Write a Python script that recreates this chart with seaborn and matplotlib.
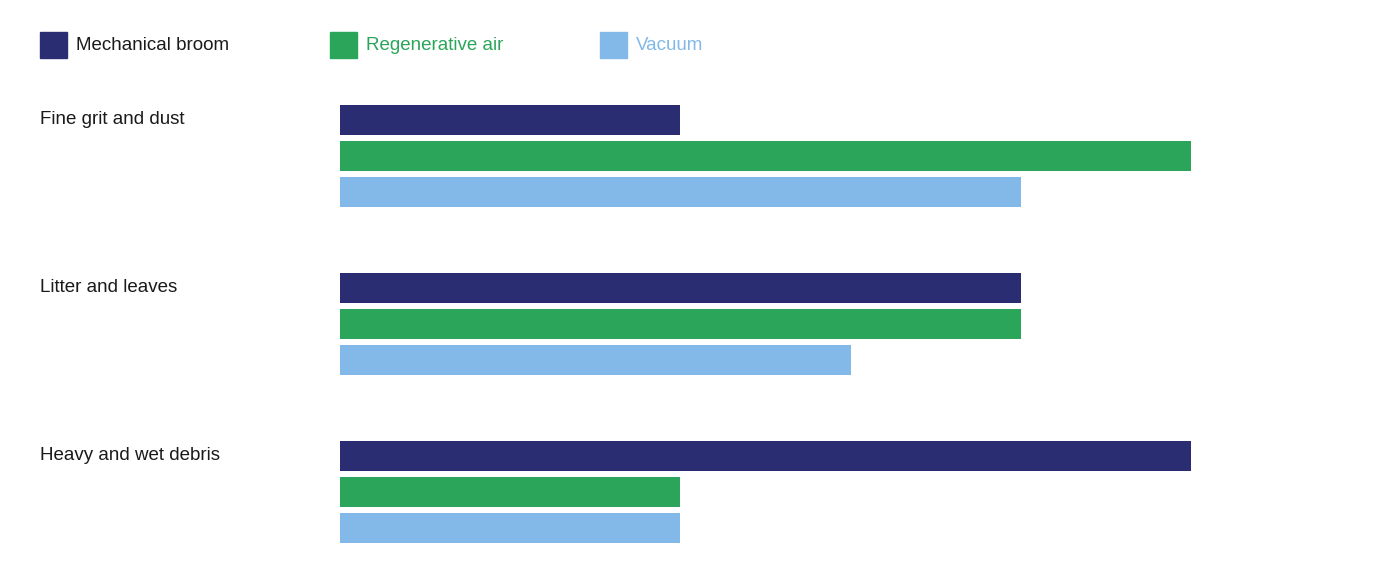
import pandas as pd
import matplotlib.pyplot as plt
import seaborn as sns

# Werte
categories = ["Fine grit and dust", "Litter and leaves", "Heavy and wet debris"]
methods = ["Mechanical broom", "Regenerative air", "Vacuum"]
broom = [2, 4, 5]
regen = [5, 4, 2]
vacuum = [4, 3, 2]
colors = ["#2b2d73", "#2ba55a", "#82b9e8"]
label_colors = ["#1a1a1a", "#2ba55a", "#82b9e8"]

df = pd.DataFrame({"Category": categories * 3,
                   "Method": [m for m in methods for _ in categories],
                   "Value": broom + regen + vacuum})

plt.rcParams['font.family'] = ['Liberation Sans', 'DejaVu Sans']
fig = plt.figure(figsize=(14, 5.8), dpi=100)
ax = fig.add_axes([340 / 1400, 4 / 580, 851 / 1400, 504 / 580])

sns.barplot(data=df, y="Category", x="Value", hue="Method", palette=colors,
            orient='h', width=0.643, gap=0.19, legend=False, ax=ax,
            saturation=1)
ax.set_xlim(0, 5)
ax.set_ylim(2.5, -0.5)
ax.axis('off')

# Kategorienbeschriftung links
for i, cat in enumerate(categories):
    fig.text(40 / 1400, 1 - (120 + i * 168) / 580, cat, fontsize=13.5,
             color="#1a1a1a", va='center', ha='left')

# Legende oben
legend_x = [40, 330, 600]
for x, m, c, lc in zip(legend_x, methods, colors, label_colors):
    fig.patches.append(plt.Rectangle((x / 1400, 1 - 58 / 580), 27 / 1400, 26 / 580,
                                     transform=fig.transFigure, color=c))
    fig.text((x + 36) / 1400, 1 - 45 / 580, m, fontsize=13.5, color=lc,
             va='center', ha='left')

fig.savefig("out.png", dpi=100)
